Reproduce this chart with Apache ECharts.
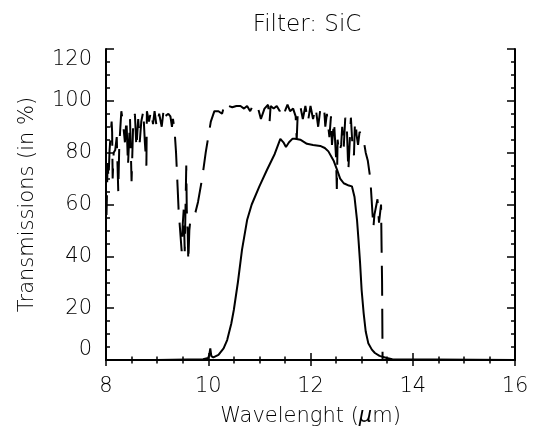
<!DOCTYPE html>
<html>
<head>
<meta charset="utf-8">
<script src="https://cdn.jsdelivr.net/npm/echarts@6/dist/echarts.min.js"></script>
<style>
html,body{margin:0;padding:0;background:#fff;}
#chart{width:536px;height:437px;}
</style>
</head>
<body>
<div id="chart"></div>
<script>
// Dashed curve (atmospheric transmission)
var dashX = [8.00,8.01,8.02,8.03,8.05,8.07,8.11,8.12,8.13,8.15,8.18,8.21,8.24,8.26,8.30,8.33,8.37,8.40,8.43,8.47,8.50,8.53,8.565,8.595,8.63,8.66,8.69,8.73,8.76,8.79,8.80,8.84,8.88,8.92,8.95,8.99,9.04,9.09,9.13,9.15,9.22,9.26,9.29,9.31,9.34,9.37,9.40,9.42,9.45,9.48,9.50,9.52,9.54,9.56,9.57,9.58,9.60,9.61,9.63,9.65,9.70,9.75,9.80,9.88,9.95,10.00,10.05,10.12,10.20,10.27,10.31,10.35,10.40,10.47,10.55,10.63,10.70,10.76,10.82,10.88,10.95,10.99,11.03,11.10,11.17,11.20,11.22,11.28,11.34,11.40,11.45,11.50,11.55,11.60,11.66,11.71,11.73,11.75,11.80,11.85,11.90,11.95,12.00,12.05,12.10,12.15,12.20,12.23,12.27,12.29,12.32,12.37,12.40,12.42,12.46,12.50,12.515,12.53,12.56,12.60,12.62,12.65,12.68,12.71,12.74,12.79,12.82,12.85,12.87,12.89,12.90,12.93,12.96,13.03,13.08,13.12,13.17,13.23,13.25,13.31,13.34,13.38,13.39,13.40,13.41,13.50];
var dashY = [60,56,65,76,70,81,92,88,70,80,81,86,65,83,96,92,84,93,75,93,69,90,95,82,93,84,92,96,84,75,96,92,96,91,96,90,95,90,97,94,95,94,90,93,89,80,67,58,50,42,52,58,42,64,75,58,48,38,50,54,56,57,61,70,80,86,92,96,96,95,98,96.5,98,97.5,98,98,97,98,96,98.6,98.6,96,93,97,98.5,92,98,97,98,96,98.5,96,98.5,96,97,94,85,95,98,93,98,92,98,93,97.5,90,98,97,96,90,95,86,94,83,92,78,66,85,80,83,90,82,93.5,90,73,93.5,83,79,92,91,87,83,88,86,80,77,70,51,56,62,53,60,44,30,0,0];

// Solid curve (SiC filter transmission)
var solidX = [8.0,9.0,9.9,10.0,10.02,10.04,10.06,10.10,10.2,10.3,10.37,10.45,10.5,10.58,10.66,10.76,10.85,11.0,11.15,11.3,11.41,11.47,11.52,11.58,11.65,11.70,11.80,11.93,12.05,12.19,12.28,12.35,12.45,12.52,12.58,12.65,12.75,12.81,12.86,12.91,12.94,12.97,13.00,13.04,13.08,13.13,13.2,13.26,13.35,13.49,13.6,16.0];
var solidY = [0,0,0.3,0.8,2,4.5,1.5,1,2,4.5,7.7,14,19.3,30,42.5,54,60,67,73.4,79.5,85.3,84,82.2,84,85.4,85.4,85,83.4,83,82.6,81.8,80.5,77,73.4,70,68.2,67.3,67,63,54,46,37.4,27,18,11,6.5,4,2.7,1.6,0.8,0.3,0];

var titleText = 'Filter: SiC';
var xName = 'Wavelenght ({m|μ}m)';
var yName = 'Transmissions (in %)';

function zip(a, b) { var r = []; for (var i = 0; i < a.length; i++) r.push([a[i], b[i]]); return r; }

var FONT = 'DejaVu Sans';
var TXT = '#000';
var axisLine = { show: true, lineStyle: { color: '#000', width: 2 } };
var majorTick = function (len) { return { show: true, inside: true, length: len, lineStyle: { color: '#000', width: 1.5 } }; };
var minorTick = function (len, n) { return { show: true, splitNumber: n, length: len, lineStyle: { color: '#000', width: 1.5 } }; };

var chart = echarts.init(document.getElementById('chart'), null, { renderer: 'canvas' });
chart.setOption({
  animation: false,
  backgroundColor: '#fff',
  title: {
    text: titleText, left: 302, top: 9, textAlign: 'center',
    textStyle: { fontFamily: FONT, fontWeight: 200, fontSize: 23, color: TXT }
  },
  grid: { left: 106, right: 21, top: 49, bottom: 77, containLabel: false },
  xAxis: [{
    type: 'value', min: 8, max: 16, interval: 2, position: 'bottom',
    axisLine: axisLine, axisTick: majorTick(7), minorTick: minorTick(3.5, 4),
    splitLine: { show: false },
    axisLabel: { margin: 16, fontFamily: FONT, fontWeight: 200, fontSize: 21, color: TXT },
    name: xName, nameLocation: 'middle', nameGap: 46,
    nameTextStyle: { fontFamily: FONT, fontWeight: 200, fontSize: 21, color: TXT,
      rich: { m: { fontFamily: FONT, fontWeight: 200, fontSize: 21, fontStyle: 'italic', color: TXT } } }
  }, {
    type: 'value', min: 8, max: 16, interval: 2, position: 'top',
    axisLine: axisLine, axisTick: majorTick(6), minorTick: minorTick(3.5, 4),
    splitLine: { show: false }, axisLabel: { show: false }
  }],
  yAxis: [{
    type: 'value', min: 0, max: 120, interval: 20, position: 'left',
    axisLine: axisLine, axisTick: majorTick(8), minorTick: minorTick(4, 4),
    splitLine: { show: false },
    axisLabel: { margin: 14, fontFamily: FONT, fontWeight: 200, fontSize: 21, color: TXT,
      verticalAlignMinLabel: 'bottom', verticalAlignMaxLabel: 'top' },
    name: yName, nameLocation: 'middle', nameGap: 68, nameRotate: 90,
    nameTextStyle: { fontFamily: FONT, fontWeight: 200, fontSize: 21, color: TXT }
  }, {
    type: 'value', min: 0, max: 120, interval: 20, position: 'right',
    axisLine: axisLine, axisTick: majorTick(8), minorTick: minorTick(4, 4),
    splitLine: { show: false }, axisLabel: { show: false }
  }],
  series: [{
    type: 'line', xAxisIndex: 0, yAxisIndex: 0, data: zip(dashX, dashY),
    showSymbol: false, symbol: 'none', smooth: false,
    lineStyle: { color: '#000', width: 2, type: [30, 13] }
  }, {
    type: 'line', xAxisIndex: 0, yAxisIndex: 0, data: zip(solidX, solidY),
    showSymbol: false, symbol: 'none', smooth: false,
    lineStyle: { color: '#000', width: 2, type: 'solid' }
  }]
});
</script>
</body>
</html>
